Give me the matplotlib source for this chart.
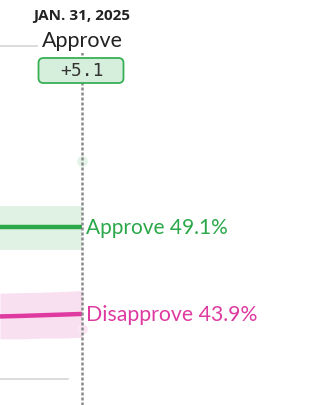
import matplotlib
matplotlib.use("Agg")
from matplotlib import pyplot as plt
from matplotlib.patches import FancyBboxPatch
import numpy as np

# data (right end of a poll average chart)
days = [27, 28, 29, 30, 31]
approve = [49.1, 49.1, 49.1, 49.1, 49.1]
approve_lo = [47.75, 47.75, 47.75, 47.75, 47.75]
approve_hi = [50.4, 50.4, 50.4, 50.4, 50.4]
disapprove = [43.75, 43.78, 43.82, 43.86, 43.9]
disapprove_lo = [42.4, 42.4, 42.45, 42.45, 42.5]
disapprove_hi = [45.15, 45.18, 45.2, 45.25, 45.3]
poll_day = [31, 31]
poll_val = [53.1, 43.0]
grid_vals = [40, 50, 60]
date_label = "JAN. 31, 2025"
lead_label = "Approve"
lead_value = "+5.1"

GREEN = "#2aa84a"
PINK = "#de3aa0"

W, H = 327, 406
fig = plt.figure(figsize=(W / 100, H / 100), dpi=100)
ax = fig.add_axes([0, 0, 1, 1])
ax.set_axis_off()

xfrac = 82 / W
span = (days[-1] - days[0]) / xfrac
ax.set_xlim(days[0], days[0] + span)
ax.set_ylim(38.43, 62.82)

for g in grid_vals:
    ax.axhline(g, xmin=0, xmax=68 / W, color="#d6d6d6", lw=1.2, zorder=1)

ax.fill_between(days, approve_lo, approve_hi, color="#dff2e4", lw=0, zorder=2)
ax.fill_between(days, disapprove_lo, disapprove_hi, color="#f9e0f0", lw=0, zorder=2)
ax.plot(days, approve, color=GREEN, lw=3.2, zorder=4, solid_capstyle="butt")
ax.plot(days, disapprove, color=PINK, lw=3.2, zorder=4, solid_capstyle="butt")
ax.scatter(poll_day[:1], poll_val[:1], s=60, color="#e4f4e8", lw=0, zorder=3)
ax.scatter(poll_day[1:], poll_val[1:], s=60, color="#fbe6f3", lw=0, zorder=3)

# dotted marker line
ax.axvline(days[-1], ymin=0, ymax=1 - 52 / H, color="#8a8a8a", lw=1.8,
           dashes=(1.2, 0.8), zorder=5)

ax.annotate(f"Approve {approve[-1]:.1f}%", (days[-1], approve[-1]),
            xytext=(3, 0), textcoords="offset points", va="center", ha="left",
            color=GREEN, fontsize=15, family="Lato")
ax.annotate(f"Disapprove {disapprove[-1]:.1f}%", (days[-1], disapprove[-1]),
            xytext=(3, 0), textcoords="offset points", va="center", ha="left",
            color=PINK, fontsize=15.3, family="Lato")

ax.text(xfrac, 1 - 16 / H, date_label, transform=ax.transAxes, ha="center",
        va="center", fontsize=11, fontweight="bold", color="#222222",
        family="Open Sans")
ax.text(xfrac, 1 - 41 / H, lead_label, transform=ax.transAxes, ha="center",
        va="center", fontsize=15.5, color="#222222", family="Lato", zorder=6,
        bbox=dict(boxstyle="square,pad=0.15", fc="white", ec="none"))

box = FancyBboxPatch((0.385, 3.22), 0.85, 0.25,
                     boxstyle="round,pad=0,rounding_size=0.05",
                     transform=fig.dpi_scale_trans, fc="#d6efdc", ec="#37b054",
                     lw=1.3, zorder=6)
ax.add_patch(box)
ax.text(xfrac, 1 - 71 / H, lead_value, transform=ax.transAxes, ha="center",
        va="center", fontsize=13, color="#333333", family="DejaVu Sans Mono",
        zorder=7)

fig.savefig("out.png", dpi=100)
